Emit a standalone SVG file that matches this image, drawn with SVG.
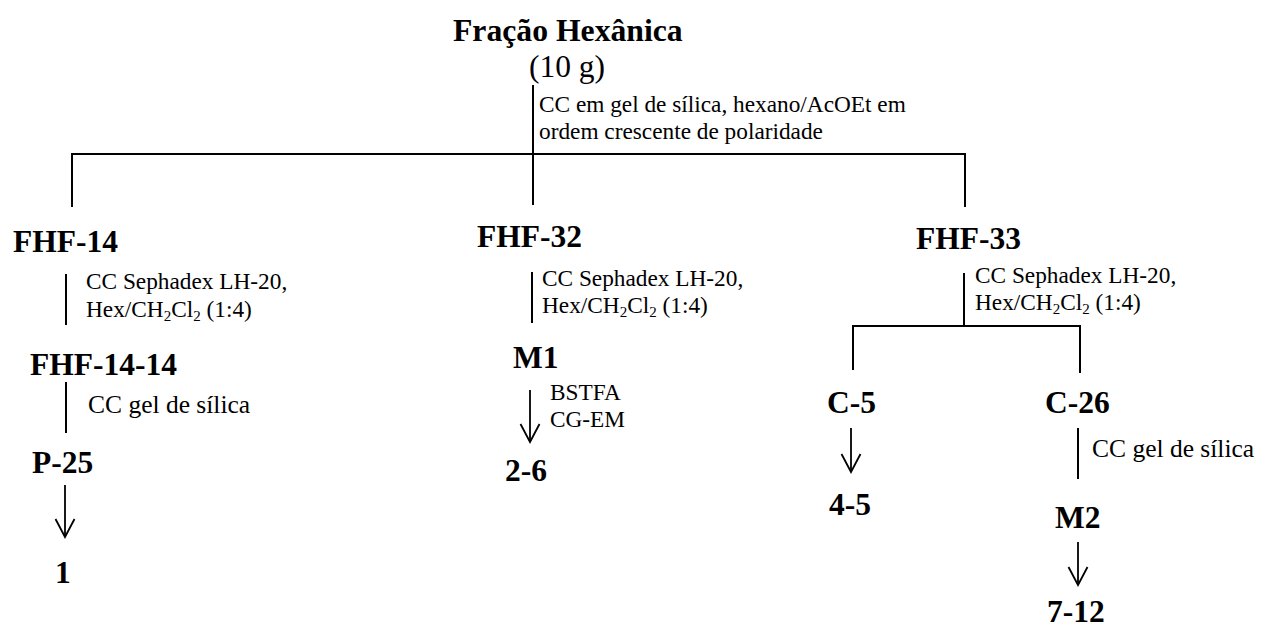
<svg xmlns="http://www.w3.org/2000/svg" width="1263" height="627" viewBox="0 0 1263 627">
<style>
text{font-family:"Liberation Serif","Times New Roman",serif;fill:#000}
.b{font-weight:bold;font-size:31.5px}
.r{font-size:23.3px}
.g{font-size:25.5px}
.s{font-size:15px}
.ln{stroke:#000;stroke-width:2;fill:none}
.ar{stroke:#000;stroke-width:1.8;fill:none;marker-end:url(#open)}
</style>
<defs>
<marker id="open" markerUnits="userSpaceOnUse" viewBox="-20 -12 22 24" markerWidth="22" markerHeight="24" refX="0" refY="0" orient="auto" overflow="visible">
<path d="M-18,-9.5 L0,0 L-18,9.5" fill="none" stroke="#000" stroke-width="1.8"/>
</marker>
</defs>
<rect width="1263" height="627" fill="#fff"/>
<g id="connectors">
<line class="ln" x1="533" y1="85" x2="533" y2="205"/>
<line class="ln" x1="71" y1="154" x2="966" y2="154"/>
<line class="ln" x1="72" y1="154" x2="72" y2="207"/>
<line class="ln" x1="965" y1="154" x2="965" y2="207"/>
<line class="ln" x1="66" y1="274" x2="66" y2="325"/>
<line class="ln" x1="532" y1="272" x2="532" y2="323"/>
<line class="ln" x1="964" y1="273" x2="964" y2="326"/>
<line class="ln" x1="852" y1="326" x2="1081" y2="326"/>
<line class="ln" x1="853" y1="326" x2="853" y2="370"/>
<line class="ln" x1="1080" y1="326" x2="1080" y2="373"/>
<line class="ln" x1="66" y1="382" x2="66" y2="433"/>
<line class="ln" x1="1078" y1="428" x2="1078" y2="479"/>
<line class="ar" x1="65" y1="485" x2="65" y2="537"/>
<line class="ar" x1="530" y1="390" x2="530" y2="442"/>
<line class="ar" x1="851" y1="428" x2="851" y2="472"/>
<line class="ar" x1="1078" y1="542" x2="1078" y2="585"/>
</g>
<g id="labels">
<text class="r" x="539" y="112">CC em gel de sílica, hexano/AcOEt em</text>
<text class="r" x="539" y="139">ordem crescente de polaridade</text>
<text class="r" x="86" y="289">CC Sephadex LH-20,</text>
<text class="r" x="86" y="317">Hex/CH<tspan class="s" dy="4">2</tspan><tspan dy="-4">Cl</tspan><tspan class="s" dy="4">2</tspan><tspan dy="-4"> (1:4)</tspan></text>
<text class="r" x="542" y="286">CC Sephadex LH-20,</text>
<text class="r" x="542" y="313">Hex/CH<tspan class="s" dy="4">2</tspan><tspan dy="-4">Cl</tspan><tspan class="s" dy="4">2</tspan><tspan dy="-4"> (1:4)</tspan></text>
<text class="r" x="975" y="283">CC Sephadex LH-20,</text>
<text class="r" x="975" y="310">Hex/CH<tspan class="s" dy="4">2</tspan><tspan dy="-4">Cl</tspan><tspan class="s" dy="4">2</tspan><tspan dy="-4"> (1:4)</tspan></text>
<text class="g" x="88" y="413">CC gel de sílica</text>
<text class="g" x="1092" y="457">CC gel de sílica</text>
<text class="r" x="550" y="400">BSTFA</text>
<text class="r" x="550" y="427">CG-EM</text>
</g>
<g id="n-root"><text x="453" y="41" style="font-weight:bold;font-size:31.7px">Fração Hexânica</text><text x="529" y="77" style="font-size:31.5px">(10 g)</text></g>
<g id="n-fhf14"><text class="b" x="13" y="252">FHF-14</text></g>
<g id="n-fhf32"><text class="b" x="477" y="247">FHF-32</text></g>
<g id="n-fhf33"><text class="b" x="916" y="249">FHF-33</text></g>
<g id="n-fhf1414"><text class="b" x="30" y="375">FHF-14-14</text></g>
<g id="n-m1"><text class="b" x="513" y="368">M1</text></g>
<g id="n-c5"><text class="b" x="827" y="413">C-5</text></g>
<g id="n-c26"><text class="b" x="1045" y="413">C-26</text></g>
<g id="n-p25"><text class="b" x="32" y="473">P-25</text></g>
<g id="n-26"><text class="b" x="505" y="481">2-6</text></g>
<g id="n-45"><text class="b" x="829" y="515">4-5</text></g>
<g id="n-1"><text class="b" x="55" y="583">1</text></g>
<g id="n-m2"><text class="b" x="1055" y="528">M2</text></g>
<g id="n-712"><text class="b" x="1047" y="622">7-12</text></g>
</svg>
